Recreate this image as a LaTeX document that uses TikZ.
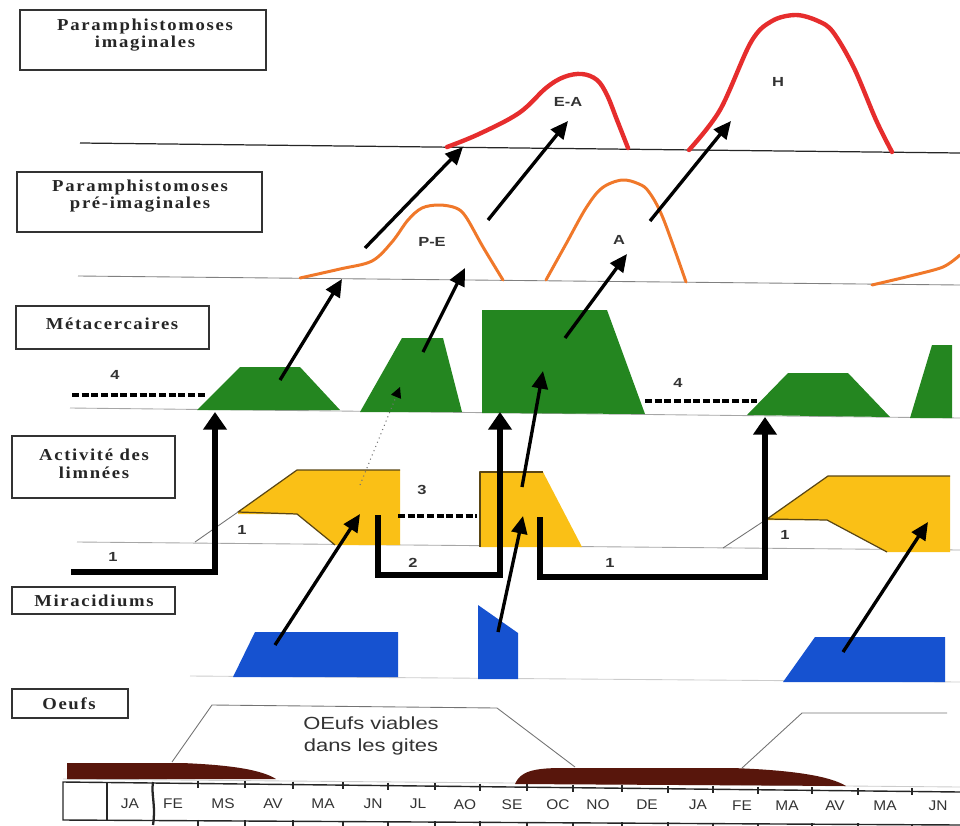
\documentclass[tikz,border=0pt]{standalone}
\usepackage{fontspec}
\setmainfont{Liberation Serif}
\newfontfamily\panelfont{Liberation Serif}[FakeStretch=1.12,LetterSpace=10]
\newfontfamily\sanswide{Liberation Sans}[FakeStretch=1.25]
\newfontfamily\sansmid{Liberation Sans}[FakeStretch=1.1]
\usetikzlibrary{arrows.meta}

\definecolor{meta}{RGB}{36,134,32}
\definecolor{limn}{RGB}{250,192,22}
\definecolor{mira}{RGB}{22,82,208}
\definecolor{egg}{RGB}{88,22,12}
\definecolor{imago}{RGB}{230,45,45}
\definecolor{preim}{RGB}{240,120,42}
\definecolor{edge}{RGB}{90,70,20}

\begin{document}
\begin{tikzpicture}[x=0.02cm,y=-0.02cm,
  panel/.style={draw=black!80,line width=0.85pt},
  paneltext/.style={font=\panelfont\bfseries\fontsize{9.5}{10}\selectfont,align=center,inner sep=0pt,text=black!85},
  base/.style={draw=black!35,line width=0.5pt},
  month/.style={font=\sansmid\fontsize{8}{9}\selectfont,text=black!80,inner sep=0pt},
  tag/.style={font=\sanswide\bfseries\fontsize{7.5}{9}\selectfont,text=black!80,inner sep=0pt},
  diag/.style={line width=1.9pt,-{Triangle[length=10pt,width=9pt]}},
  cycle arrow/.style={line width=3.2pt,-{Triangle[length=10pt,width=13pt]}},
  gap/.style={line width=2.3pt,dash pattern=on 4pt off 1.5pt},
  callout/.style={draw=black!55,line width=0.5pt},
  outline/.style={draw=edge,line width=0.7pt,line join=round},
]
\useasboundingbox (0,0) rectangle (960,825);

% ---- row title boxes
\draw[panel] (20,10) rectangle (266,70);
\node[paneltext] (tImag) at (145,35) {Paramphistomoses\\imaginales};
\draw[panel] (17,172) rectangle (262,232);
\node[paneltext] (tPre) at (140,196) {Paramphistomoses\\pré-imaginales};
\draw[panel] (16,306) rectangle (209,349);
\node[paneltext] (tMeta) at (112,324) {Métacercaires};
\draw[panel] (12,436) rectangle (175,498);
\node[paneltext] (tLim) at (94,464) {Activité des\\limnées};
\draw[panel] (12,587) rectangle (175,614);
\node[paneltext] (tMir) at (94,601) {Miracidiums};
\draw[panel] (12,689) rectangle (128,718);
\node[paneltext] (tOeuf) at (69,704) {Oeufs};

% ---- base lines of each row
\draw[draw=black!85,line width=0.7pt] (80,143) -- (960,153);
\draw[base,draw=black!50] (78,276) -- (960,285);
\draw[base] (70,408) -- (960,418);
\draw[base] (77,542) -- (960,550);
\draw[base,draw=black!20] (190,676) -- (960,682);
\draw[base,draw=black!20] (63,779) -- (960,787);

% ---- imaginal curves
\draw[imago,line width=2.5pt,line cap=round,line join=round]
  plot[smooth,tension=0.6] coordinates {(447,147) (479,134) (519,113) (546,88) (564,77) (582,74) (597,80) (607,95) (617,120) (628,148)};
\draw[imago,line width=2.5pt,line cap=round,line join=round]
  plot[smooth,tension=0.55] coordinates {(689,150) (720,110) (751,42) (772,21) (796,15) (818,21) (833,32) (854,68) (876,120) (892,152)};
\node[tag] (lEA) at (568,102) {E-A};
\node[tag] (lH) at (778,82) {H};

% ---- pre-imaginal curves
\draw[preim,line width=1.7pt,line cap=round,line join=round]
  plot[smooth,tension=0.55] coordinates {(300,278) (340,269) (372,261) (392,242) (408,220) (422,208) (439,205) (456,208) (466,217) (483,247) (503,280)};
\draw[preim,line width=1.7pt,line cap=round,line join=round]
  plot[smooth,tension=0.55] coordinates {(546,280) (566,244) (586,208) (602,188) (622,180) (639,184) (649,192) (663,218) (686,282)};
\draw[preim,line width=1.7pt,line cap=round,line join=round]
  plot[smooth,tension=0.5] coordinates {(872,285) (910,276) (943,267) (960,255)};
\node[tag] (lPE) at (432,242) {P-E};
\node[tag] (lA) at (619,240) {A};

% ---- metacercariae
\fill[meta] (197,410) -- (240,367) -- (300,367) -- (340,410) -- cycle;
\fill[meta] (360,412) -- (402,338) -- (443,338) -- (462,412) -- cycle;
\fill[meta] (482,413) -- (482,310) -- (607,310) -- (645,414) -- cycle;
\fill[meta] (747,415) -- (788,373) -- (848,373) -- (890,417) -- cycle;
\fill[meta] (910,418) -- (932,345) -- (952,345) -- (952,418) -- cycle;

% ---- snail activity
\fill[limn] (238,512) -- (297,470) -- (400,470) -- (400,545) -- (335,545) -- (297,514) -- (238,514) -- cycle;
\draw[outline] (400,470) -- (297,470) -- (238,512) -- (297,514) -- (335,545);
\fill[limn] (480,472) -- (543,472) -- (582,547) -- (480,547) -- cycle;
\draw[outline] (480,547) -- (480,472) -- (543,472);
\fill[limn] (767,519) -- (828,476) -- (950,476) -- (950,552) -- (887,552) -- (827,520) -- (767,520) -- cycle;
\draw[outline] (950,476) -- (828,476) -- (767,519) -- (827,520) -- (887,552);
\draw[callout] (195,542) -- (238,512);
\draw[callout] (723,548) -- (767,519);

% ---- miracidia
\fill[mira] (233,677) -- (255,632) -- (398,632) -- (398,677) -- cycle;
\fill[mira] (478,605) -- (518,633) -- (518,679) -- (478,679) -- cycle;
\fill[mira] (783,682) -- (815,637) -- (945,637) -- (945,682) -- cycle;

% ---- eggs
\fill[egg] (67,779) -- (67,763) -- (182,763) .. controls (232,765) and (262,770) .. (276,779) -- cycle;
\fill[egg] (515,784) .. controls (520,772) and (532,768) .. (562,768) -- (732,768) .. controls (792,770) and (830,776) .. (846,786) -- cycle;
\draw[callout] (172,762) -- (212,705) -- (497,708) -- (575,767);
\draw[callout] (742,768) -- (802,713) -- (947,713);
\node[font=\sanswide\fontsize{10}{13}\selectfont,text=black!80,align=center,inner sep=0pt] (lViable) at (371,736) {OEufs viables\\dans les gites};

% ---- month axis
\draw[black!85,line width=0.8pt] (960,792) -- (63,782) -- (63,820) -- (960,825);
\draw[black!85,line width=0.8pt] (107,782) -- (107,821);
\draw[black!85,line width=1.3pt] (153,782) .. controls (151,795) and (156,805) .. (153,825);
\foreach \t in {198,245,293,343,388,435,480,527,573,622,668,713,758,812,858,912}{
  \draw[black!85,line width=0.9pt] (\t,{779+(\t-63)*10/897}) -- (\t,{786+(\t-63)*10/897});
  \draw[black!85,line width=0.9pt] (\t,{819+(\t-63)*5/897}) -- (\t,{826+(\t-63)*5/897});
}
\foreach \m/\x [count=\i] in {JA/130,FE/173,MS/223,AV/273,MA/323,JN/373,JL/418,AO/465,SE/512,OC/558,NO/598,DE/647,JA/698,FE/742,MA/787,AV/835,MA/885,JN/938}{
  \node[month] (m\i) at (\x,{803+(\x-63)*3/897}) {\m};
}

% ---- gaps between phases
\draw[gap] (72,395) -- (207,395);
\draw[gap] (645,401) -- (757,401);
\draw[gap] (398,516) -- (477,516);
\node[tag] (n4a) at (115,375) {4};
\node[tag] (n4b) at (678,383) {4};
\node[tag] (n3) at (422,490) {3};

% ---- snail cycle arrows
\coordinate (c1a) at (71,572);
\coordinate (c1b) at (215,572);
\coordinate (c1c) at (215,412);
\draw[cycle arrow] (c1a) -- (c1b) -- (c1c);
\coordinate (c2a) at (378,515);
\coordinate (c2b) at (378,575);
\coordinate (c2c) at (500,575);
\coordinate (c2d) at (500,412);
\draw[cycle arrow] (c2a) -- (c2b) -- (c2c) -- (c2d);
\coordinate (c3a) at (540,517);
\coordinate (c3b) at (540,577);
\coordinate (c3c) at (765,577);
\coordinate (c3d) at (765,417);
\draw[cycle arrow] (c3a) -- (c3b) -- (c3c) -- (c3d);
\node[tag] (n1a) at (113,557) {1};
\node[tag] (n1b) at (242,530) {1};
\node[tag] (n2) at (413,563) {2};
\node[tag] (n1c) at (610,563) {1};
\node[tag] (n1d) at (785,535) {1};

% ---- development arrows between stages
\coordinate (b1) at (275,645);  \coordinate (y1) at (360,514);
\coordinate (b2) at (498,632);  \coordinate (y2) at (523,516);
\coordinate (b3) at (843,652);  \coordinate (y3) at (928,522);
\coordinate (y2s) at (522,487); \coordinate (g3) at (543,371);
\coordinate (g1s) at (280,380); \coordinate (p1) at (342,279);
\coordinate (g2s) at (423,352); \coordinate (p2) at (465,268);
\coordinate (g3s) at (565,338); \coordinate (p3) at (627,254);
\coordinate (q1s) at (365,248); \coordinate (i1) at (463,147);
\coordinate (q2s) at (488,220); \coordinate (i2) at (568,121);
\coordinate (q3s) at (650,221); \coordinate (i3) at (731,121);
\draw[diag] (b1) -- (y1);
\draw[diag] (b2) -- (y2);
\draw[diag] (b3) -- (y3);
\draw[diag] (y2s) -- (g3);
\draw[diag] (g1s) -- (p1);
\draw[diag] (g2s) -- (p2);
\draw[diag] (g3s) -- (p3);
\draw[diag] (q1s) -- (i1);
\draw[diag] (q2s) -- (i2);
\draw[diag] (q3s) -- (i3);
\coordinate (y1s) at (360,485); \coordinate (g2) at (400,387);
\draw[black!55,line width=0.6pt,dotted,-{Triangle[length=6pt,width=6pt,color=black]}] (y1s) -- (g2);
\end{tikzpicture}
\end{document}
